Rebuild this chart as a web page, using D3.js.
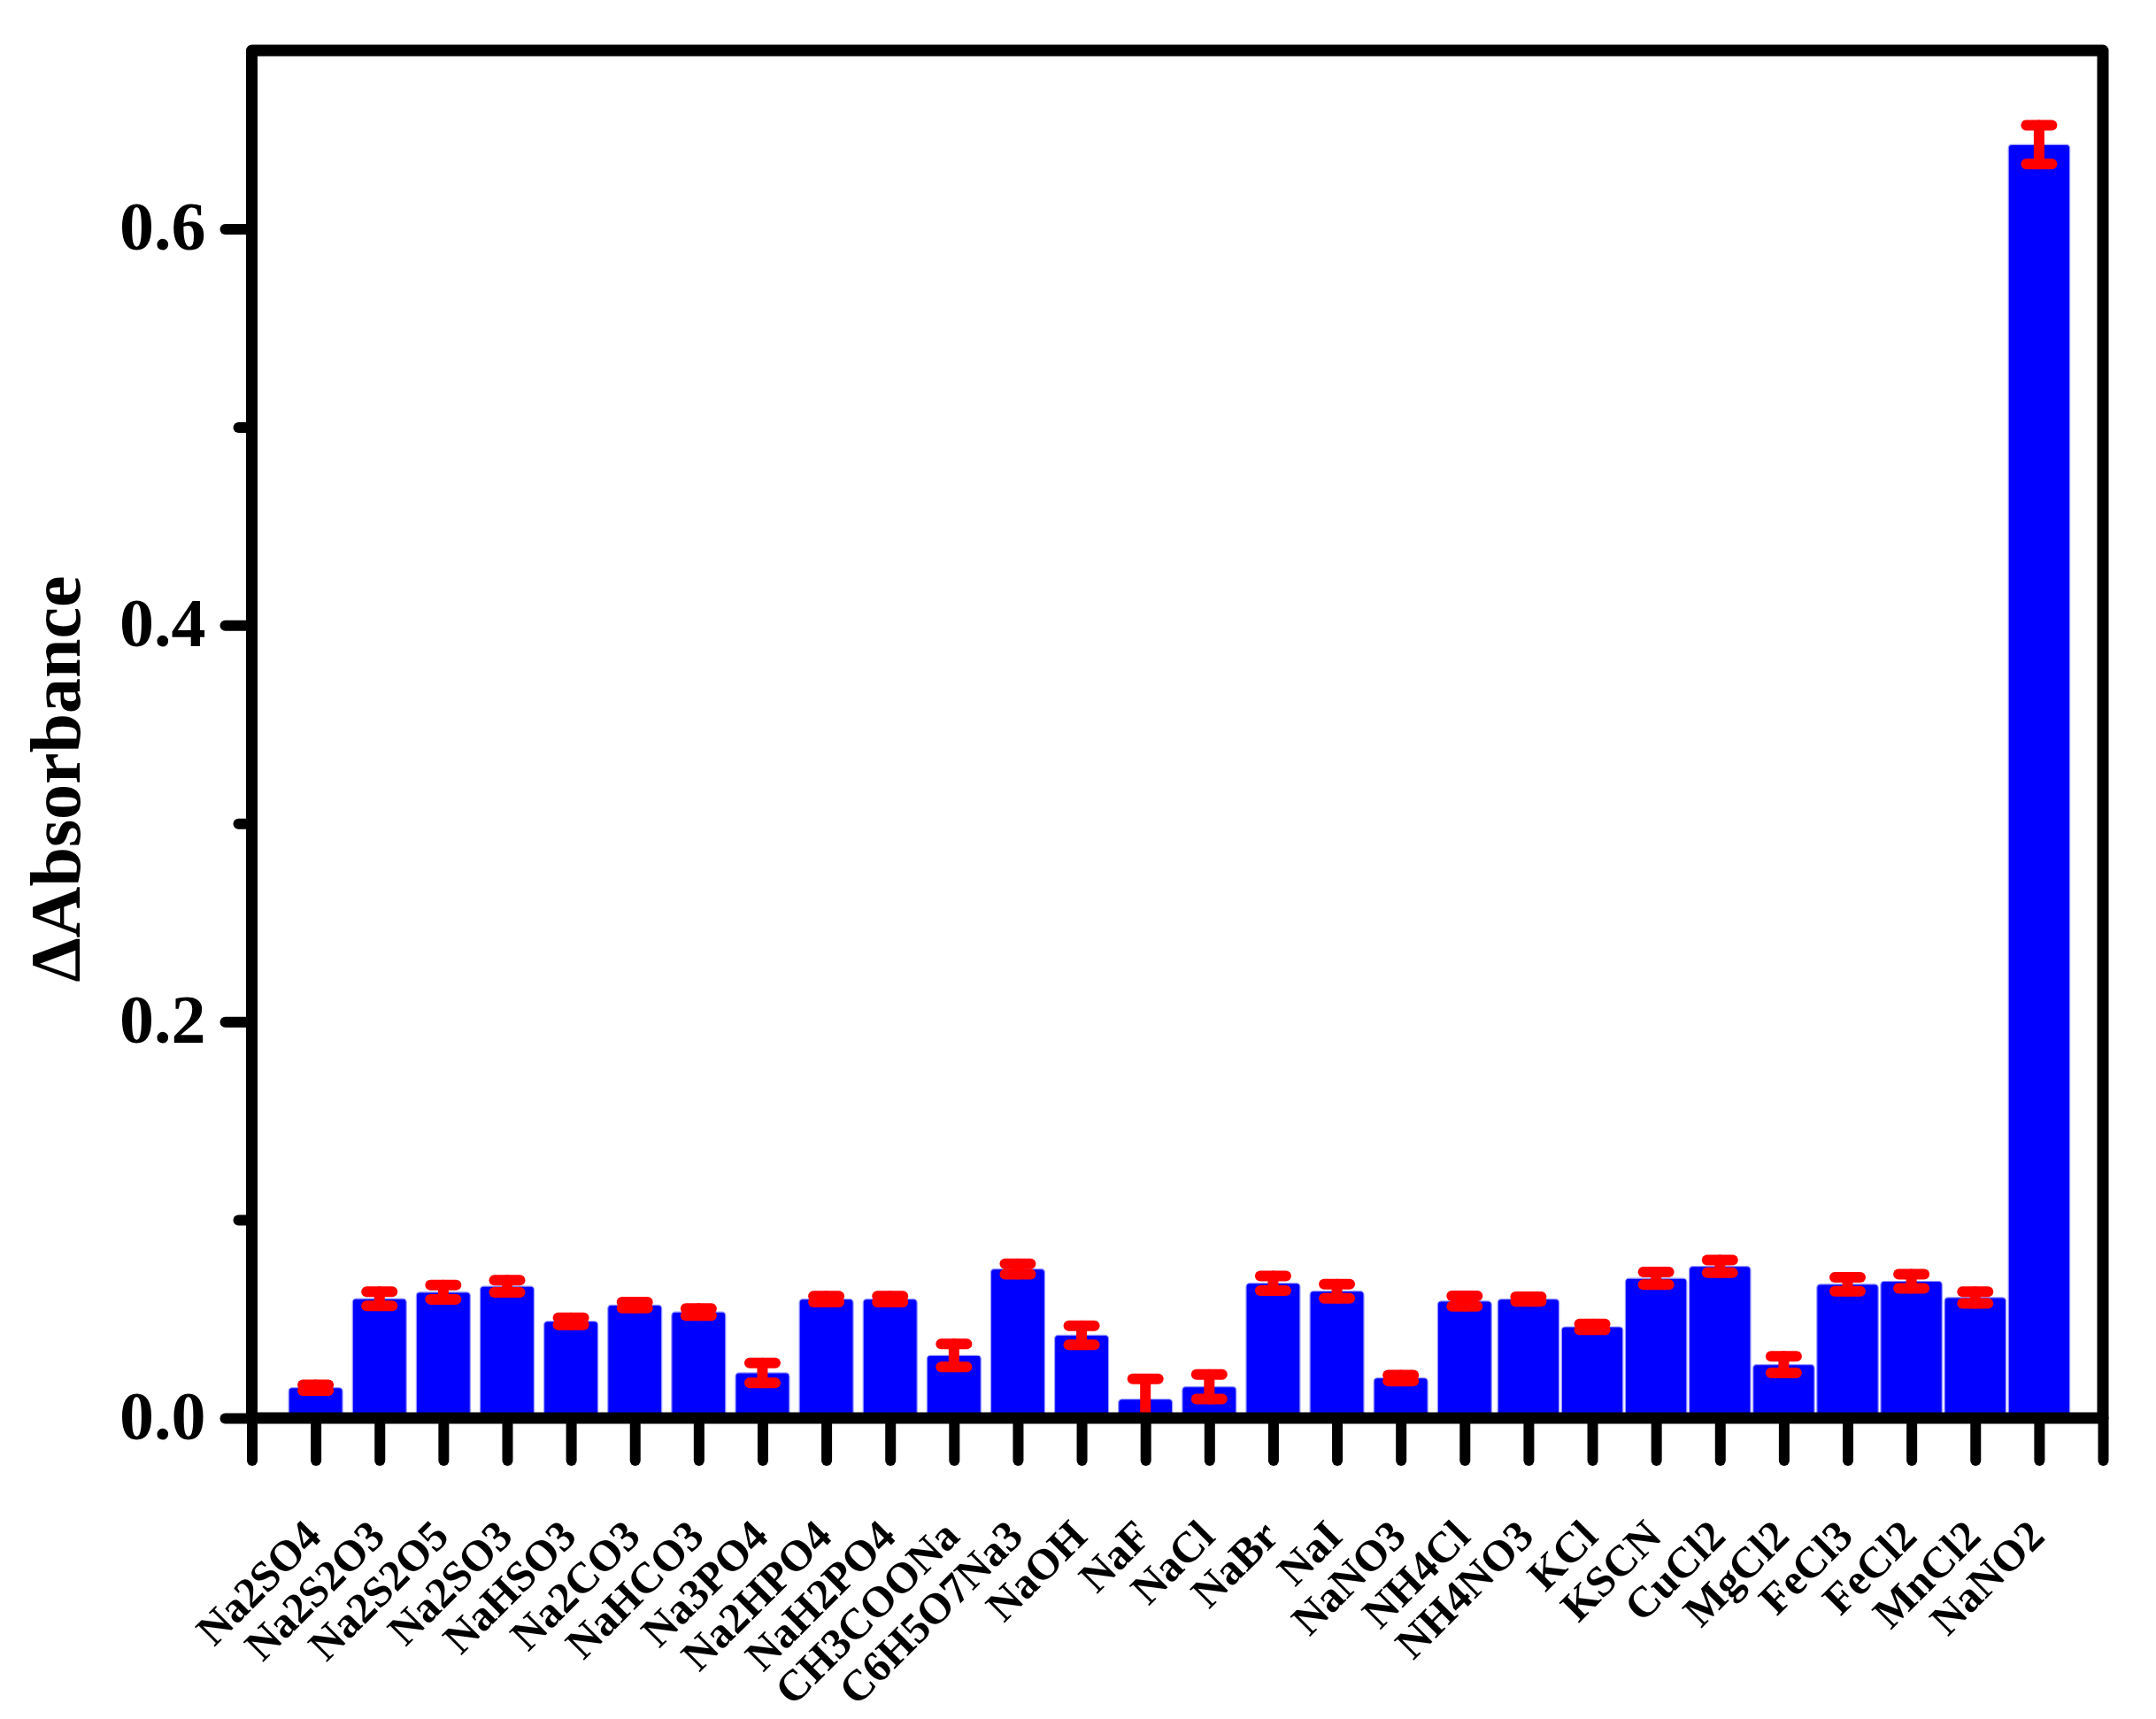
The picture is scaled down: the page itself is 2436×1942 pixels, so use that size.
<!DOCTYPE html>
<html>
<head>
<meta charset="utf-8">
<script src="https://cdn.jsdelivr.net/npm/d3@7"></script>
<style>
  html, body { margin: 0; padding: 0; background: #ffffff; }
  svg { display: block; }
  text { font-family: "Liberation Serif", "Times New Roman", serif; font-weight: bold; fill: #000; }
</style>
</head>
<body>
<svg id="chart" width="2436" height="1942"></svg>
<script>
// ---------- data ----------
const categories = ["Na2SO4","Na2S2O3","Na2S2O5","Na2SO3","NaHSO3","Na2CO3","NaHCO3","Na3PO4",
  "Na2HPO4","NaH2PO4","CH3COONa","C6H5O7Na3","NaOH","NaF","NaCl","NaBr","NaI","NaNO3",
  "NH4Cl","NH4NO3","KCl","KSCN","CuCl2","MgCl2","FeCl3","FeCl2","MnCl2","NaNO2"];
const values = [0.0153,0.0602,0.0635,0.0665,0.0488,0.0570,0.0535,0.0228,
  0.0600,0.0600,0.0316,0.0752,0.0418,0.0095,0.0158,0.0680,0.0640,0.0202,
  0.0590,0.0600,0.0460,0.0705,0.0765,0.0270,0.0675,0.0690,0.0608,0.6425];
const errors = [0.0015,0.0036,0.0036,0.0031,0.0018,0.0015,0.0018,0.0050,
  0.0015,0.0015,0.0058,0.0026,0.0048,0.0103,0.0062,0.0037,0.0036,0.0015,
  0.0026,0.0012,0.0015,0.0032,0.0032,0.0042,0.0035,0.0036,0.0030,0.0098];
const yMajorTicks = [0, 0.2, 0.4, 0.6];
const yTickLabels = ["0.0", "0.2", "0.4", "0.6"];
const yMinorTicks = [0.1, 0.3, 0.5];
const yTitle = "\u0394Absorbance";

// ---------- layout ----------
const plotLeft = 284.5, plotRight = 2376, plotTop = 57, plotBottom = 1602;
const svg = d3.select("#chart");

const x = d3.scaleLinear().domain([0, categories.length + 1]).range([plotLeft, plotRight]);
const y = d3.scaleLinear().domain([0, 0.69]).range([plotBottom, plotTop]);
const step = x(1) - x(0);

const data = categories.map((c, i) => ({ name: c, value: values[i], err: errors[i], pos: i + 1 }));
const barWidth = d => (d.pos <= 19 ? 0.845 : 0.962) * step;

// bars
svg.append("g").selectAll("rect").data(data).join("rect")
  .attr("x", d => x(d.pos) - barWidth(d) / 2)
  .attr("width", d => barWidth(d))
  .attr("y", d => y(d.value))
  .attr("height", d => y(0) - y(d.value))
  .attr("rx", 4).attr("ry", 4)
  .attr("fill", "#0000ff")
  .attr("stroke", "#9a9aff")
  .attr("stroke-width", 1.2);

// error bars
const eb = svg.append("g").attr("stroke", "#ff0000").attr("stroke-width", 12).attr("stroke-linecap", "round");
const capHalf = 14.5;
data.forEach(d => {
  const g = eb.append("g");
  const lo = d.value - d.err;
  g.append("line").attr("x1", x(d.pos)).attr("x2", x(d.pos))
    .attr("y1", y(d.value + d.err)).attr("y2", y(Math.max(0, lo)))
    .attr("stroke-linecap", lo < 0 ? "butt" : "round");
  g.append("line").attr("x1", x(d.pos) - capHalf).attr("x2", x(d.pos) + capHalf)
    .attr("y1", y(d.value + d.err)).attr("y2", y(d.value + d.err));
  if (lo >= 0) {
    g.append("line").attr("x1", x(d.pos) - capHalf).attr("x2", x(d.pos) + capHalf)
      .attr("y1", y(lo)).attr("y2", y(lo));
  }
});

// frame
svg.append("rect")
  .attr("x", plotLeft).attr("y", plotTop)
  .attr("width", plotRight - plotLeft).attr("height", plotBottom - plotTop)
  .attr("fill", "none").attr("stroke", "#000").attr("stroke-width", 13)
  .attr("stroke-linejoin", "round");

// y axis major
const yAxis = d3.axisLeft(y).tickValues(yMajorTicks)
  .tickFormat((d, i) => yTickLabels[i]).tickSize(30).tickPadding(22);
const gy = svg.append("g").attr("transform", `translate(${plotLeft},0)`).call(yAxis);
gy.select(".domain").remove();
gy.selectAll(".tick line").attr("stroke", "#000").attr("stroke-width", 12).attr("stroke-linecap", "round");
gy.selectAll(".tick text").attr("font-size", 78).attr("dy", "0.3em")
  .style("font-family", "'Liberation Serif','Times New Roman',serif").style("font-weight", "bold");

// y axis minor
const yMinor = d3.axisLeft(y).tickValues(yMinorTicks).tickFormat("").tickSize(15);
const gym = svg.append("g").attr("transform", `translate(${plotLeft},0)`).call(yMinor);
gym.select(".domain").remove();
gym.selectAll(".tick line").attr("stroke", "#000").attr("stroke-width", 12).attr("stroke-linecap", "round");

// x axis
const xAxis = d3.axisBottom(x).tickValues(d3.range(0, categories.length + 2))
  .tickFormat(i => categories[i - 1] || "").tickSize(48);
const gx = svg.append("g").attr("transform", `translate(0,${plotBottom})`).call(xAxis);
gx.select(".domain").remove();
gx.selectAll(".tick line").attr("stroke", "#000").attr("stroke-width", 12).attr("stroke-linecap", "round");
gx.selectAll(".tick text")
  .attr("x", 0).attr("y", 0).attr("dy", 0)
  .attr("transform", "translate(8,136) rotate(-45)")
  .attr("text-anchor", "end")
  .attr("font-size", 49)
  .style("font-family", "'Liberation Serif','Times New Roman',serif").style("font-weight", "bold");

// y title
svg.append("text")
  .attr("transform", `translate(90,880) rotate(-90)`)
  .attr("text-anchor", "middle")
  .attr("font-size", 80)
  .text(yTitle);
</script>
</body>
</html>
